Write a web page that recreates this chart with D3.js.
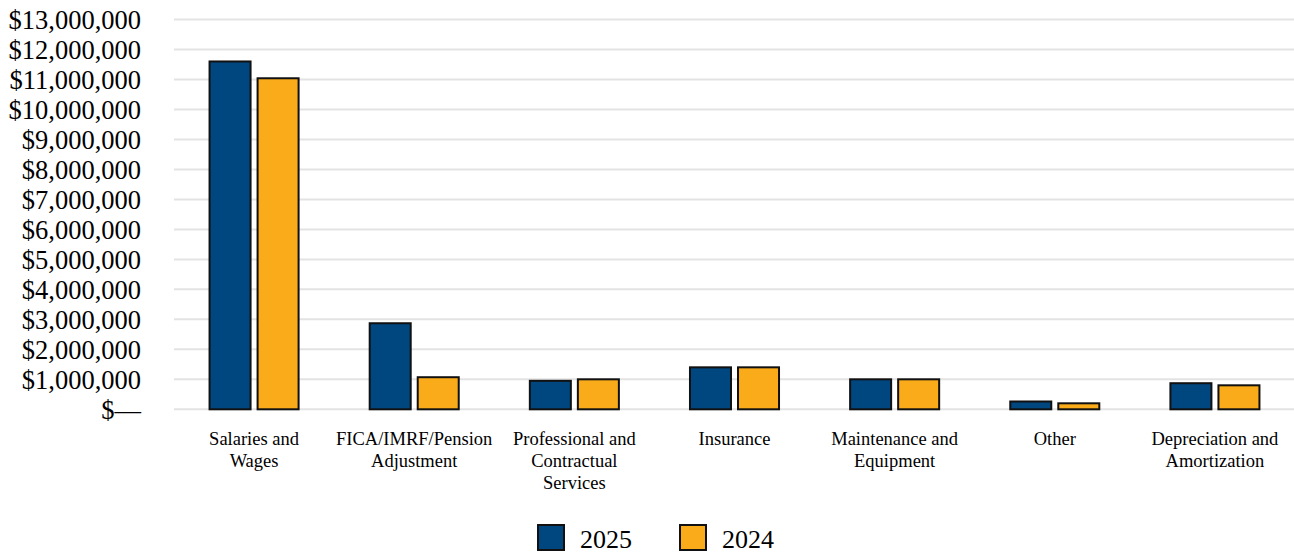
<!DOCTYPE html>
<html>
<head>
<meta charset="utf-8">
<script src="https://cdn.jsdelivr.net/npm/d3@7"></script>
<style>
  html, body { margin: 0; padding: 0; background: #fff; }
  svg { display: block; }
  svg text { font-family: "Liberation Serif", "Times New Roman", serif; }
</style>
</head>
<body>
<svg id="chart" width="1294" height="554"></svg>
<script>
const categories = [
  "Salaries and\nWages",
  "FICA/IMRF/Pension\nAdjustment",
  "Professional and\nContractual\nServices",
  "Insurance",
  "Maintenance and\nEquipment",
  "Other",
  "Depreciation and\nAmortization"
];
const seriesNames = ["2025", "2024"];
const values2025 = [11600000, 2870000, 950000, 1400000, 1000000, 260000, 870000];
const values2024 = [11040000, 1070000, 1000000, 1400000, 1000000, 200000, 800000];
const yTicks = [0,1000000,2000000,3000000,4000000,5000000,6000000,7000000,8000000,9000000,10000000,11000000,12000000,13000000];
const colors = ["#00467f", "#f9ab1a"];

const FONT = "'Liberation Serif', 'Times New Roman', serif";
const svg = d3.select("#chart");
const plot = { left: 174, right: 1295, top: 19.5, bottom: 409.3 };

const y = d3.scaleLinear().domain([0, 13000000]).range([plot.bottom, plot.top]);
const x0 = d3.scaleBand().domain(categories).range([plot.left, plot.right]).paddingInner(0.444).paddingOuter(0.222);
const x1 = d3.scaleBand().domain(seriesNames).range([0, x0.bandwidth()]).paddingInner(0.146).paddingOuter(0);
const color = d3.scaleOrdinal().domain(seriesNames).range(colors);

// gridlines
svg.append("g").selectAll("line").data(yTicks).join("line")
  .attr("x1", plot.left).attr("x2", plot.right)
  .attr("y1", d => y(d)).attr("y2", d => y(d))
  .attr("stroke", "#e3e3e3").attr("stroke-width", 2);

// y axis labels
const fmt = d => d === 0 ? "$\u2014" : "$" + d3.format(",")(d);
const yAxis = d3.axisLeft(y).tickValues(yTicks).tickFormat(fmt).tickSize(0).tickPadding(0);
const gy = svg.append("g").attr("transform", "translate(141,0)").call(yAxis);
gy.attr("font-family", FONT);
gy.select(".domain").remove();
gy.selectAll("text")
  .attr("font-family", FONT)
  .attr("font-size", 26.5).attr("fill", "#000").attr("dy", "0.34em");

// bars
const rows = categories.map((c, i) => ({ cat: c, vals: [values2025[i], values2024[i]] }));
const groups = svg.append("g").selectAll("g").data(rows).join("g")
  .attr("transform", d => `translate(${x0(d.cat)},0)`);
groups.selectAll("rect").data(d => seriesNames.map((s, j) => ({ s, v: d.vals[j] }))).join("rect")
  .attr("x", d => x1(d.s))
  .attr("width", x1.bandwidth())
  .attr("y", d => y(d.v))
  .attr("height", d => y(0) - y(d.v))
  .attr("fill", d => color(d.s))
  .attr("stroke", "#111").attr("stroke-width", 2);

// x labels
const xl = svg.append("g").attr("font-family", FONT).selectAll("text").data(categories).join("text")
  .attr("x", d => x0(d) + x0.bandwidth() / 2)
  .attr("y", 445)
  .attr("text-anchor", "middle")
  .attr("font-family", FONT)
  .attr("font-size", 18.5)
  .attr("fill", "#000");
xl.selectAll("tspan").data(d => d.split("\n")).join("tspan")
  .attr("x", function() { return d3.select(this.parentNode).attr("x"); })
  .attr("dy", (d, i) => i === 0 ? 0 : 22)
  .attr("font-family", FONT)
  .text(d => d);

// legend
const legendX = [538, 680];
const lg = svg.append("g").selectAll("g").data(seriesNames).join("g")
  .attr("transform", (d, i) => `translate(${legendX[i]},525)`);
lg.append("rect").attr("width", 26).attr("height", 25)
  .attr("fill", d => color(d)).attr("stroke", "#111").attr("stroke-width", 2);
lg.append("text").attr("x", 42).attr("y", 22.5)
  .attr("font-family", FONT)
  .attr("font-size", 26).attr("fill", "#000").text(d => d);
</script>
</body>
</html>
